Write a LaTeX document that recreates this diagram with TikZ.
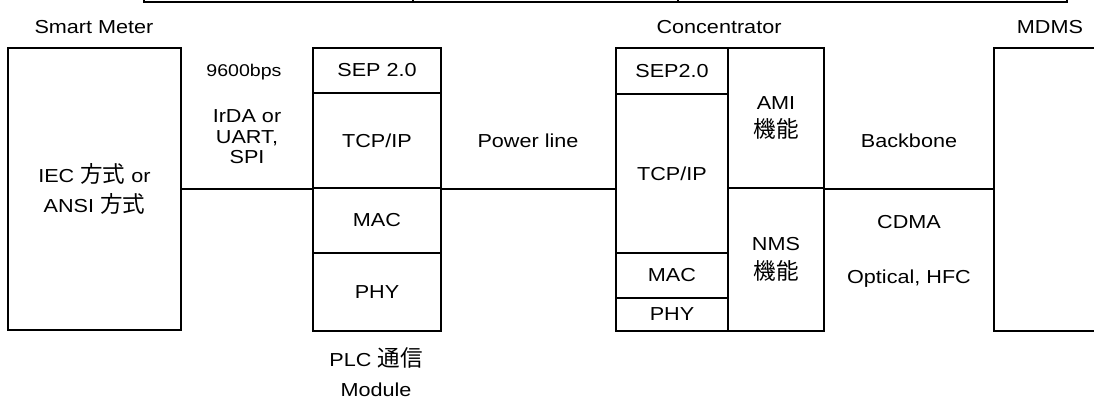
\documentclass[tikz,border=0pt]{standalone}
\usepackage{fontspec}
\setmainfont{Liberation Sans}[FakeStretch=1.15]
\newfontfamily\cjk{Noto Sans CJK JP}[Scale=1.2]
\begin{document}
\begin{tikzpicture}[x=1pt,y=-1pt,
  every node/.append style={font=\fontsize{18.8}{30}\selectfont},
  box/.style={draw, line width=1.7pt, inner sep=0pt, align=center},
  lbl/.style={inner sep=0pt, align=center},
  flat/.style={text depth=0pt},
  link/.style={line width=1.7pt}]
\useasboundingbox (0,0) rectangle (1094,399);
\clip (0,0) rectangle (1094,399);

% top table (cut off at top edge)
\node[box, minimum width=269pt, minimum height=40pt, anchor=south west] (t1) at (143,3) {};
\node[box, minimum width=265pt, minimum height=40pt, anchor=south west] (t2) at (412,3) {};
\node[box, minimum width=389pt, minimum height=40pt, anchor=south west] (t3) at (677,3) {};

% headings
\node[lbl] (lsm) at (94,27) {Smart Meter};
\node[lbl] (lconc) at (719,27) {Concentrator};
\node[lbl] (lmdms) at (1050,27) {MDMS};

% smart meter
\node[box, minimum width=173pt, minimum height=282pt] (sm) at (94.5,189)
  {IEC {\cjk 方式} or\\ANSI {\cjk 方式}};

% PLC module
\node[box, minimum width=128pt, minimum height=45pt] (sep1) at (377,70.5) {SEP 2.0};
\node[box, minimum width=128pt, minimum height=95pt] (tcp1) at (377,140.5) {TCP/IP};
\node[box, minimum width=128pt, minimum height=65pt] (mac1) at (377,220.5) {MAC};
\node[box, minimum width=128pt, minimum height=78pt] (phy1) at (377,292) {PHY};

% concentrator
\node[box, minimum width=112pt, minimum height=46pt] (sep2) at (672,71) {SEP2.0};
\node[box, minimum width=112pt, minimum height=159pt] (tcp2) at (672,173.5) {TCP/IP};
\node[box, minimum width=112pt, minimum height=45pt] (mac2) at (672,275.5) {MAC};
\node[box, minimum width=112pt, minimum height=33pt] (phy2) at (672,314.5) {PHY};
\node[box, minimum width=96pt, minimum height=140pt, font=\fontsize{18.8}{28.5}\selectfont] (ami) at (776,118) {AMI\\{\cjk 機能}};
\node[box, minimum width=96pt, minimum height=143pt, font=\fontsize{18.8}{28.5}\selectfont] (nms) at (776,259.5) {NMS\\{\cjk 機能}};

% MDMS (cut off at right edge)
\node[box, minimum width=120pt, minimum height=283pt] (mdms) at (1054,189.5) {};

% links
\draw[link] (tcp1.south west) -- (tcp1.south west -| sm.east);
\draw[link] (tcp1.south east) -- (tcp1.south east -| tcp2.west);
\draw[link] (ami.south east) -- (ami.south east -| mdms.west);

% link labels
\node[lbl, flat, font=\fontsize{17}{20}\selectfont] (lbps) at (244,70) {9600bps};
\node[lbl, font=\fontsize{18.8}{20.5}\selectfont] (lirda) at (247,137) {IrDA or\\UART,\\SPI};
\node[lbl] (lpow) at (528,141) {Power line};
\node[lbl] (lbb) at (909,141) {Backbone};
\node[lbl] (lcdma) at (909,222) {CDMA};
\node[lbl, flat] (lopt) at (909,277) {Optical, HFC};
\node[lbl] (lplc) at (376,372) {PLC {\cjk 通信}\\Module};
\end{tikzpicture}
\end{document}
